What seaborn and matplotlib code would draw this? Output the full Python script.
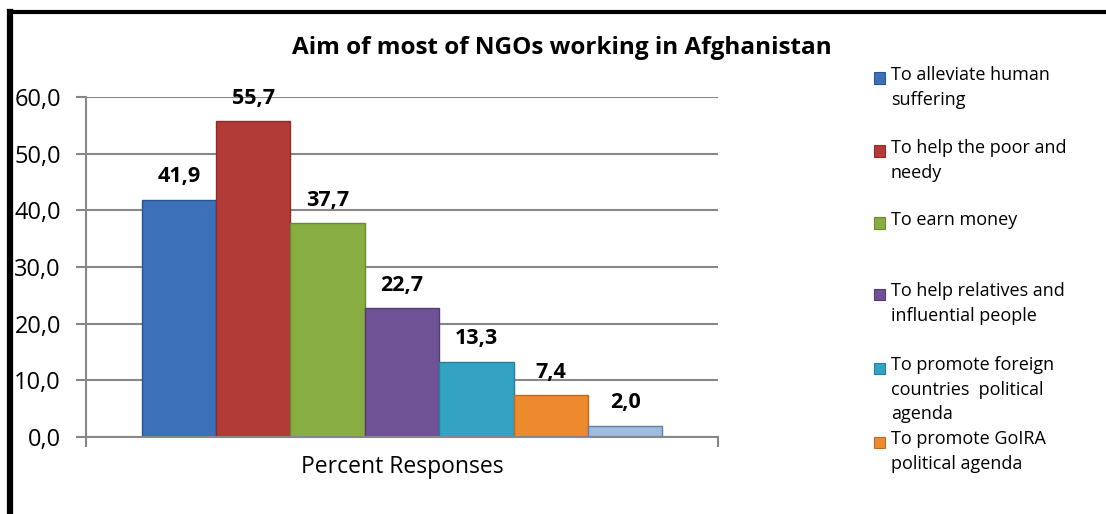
import matplotlib
matplotlib.use("Agg")
import matplotlib.pyplot as plt
from matplotlib.patches import Rectangle
from matplotlib.lines import Line2D
import seaborn as sns
import pandas as pd

# ---- data ----
categories = [
    "To alleviate human suffering",
    "To help the poor and needy",
    "To earn money",
    "To help relatives and influential people",
    "To promote foreign countries  political agenda",
    "To promote GoIRA political agenda",
    "Other",
]
legend_labels = [
    "To alleviate human\nsuffering",
    "To help the poor and\nneedy",
    "To earn money",
    "To help relatives and\ninfluential people",
    "To promote foreign\ncountries  political\nagenda",
    "To promote GoIRA\npolitical agenda",
]
values = [41.9, 55.7, 37.7, 22.7, 13.3, 7.4, 2.0]
group_label = "Percent Responses"
y_ticks = [0, 10, 20, 30, 40, 50, 60]
title = "Aim of most of NGOs working in Afghanistan"

colors = ["#3C70B8", "#B33B37", "#88AE42", "#6F5396", "#34A2C2", "#EC8A2D", "#9DBCE0"]
edges = ["#2A5590", "#8E2B28", "#6A8A30", "#543E75", "#237F9A", "#C06A1C", "#5F7FA8"]

df = pd.DataFrame({"group": [group_label] * len(values), "category": categories, "value": values})

W, H = 1106, 514
sns.set_theme(style="white")
plt.rcParams["font.family"] = ["Open Sans", "DejaVu Sans"]
plt.rcParams["text.color"] = "black"
plt.rcParams["xtick.labelcolor"] = "black"
plt.rcParams["ytick.labelcolor"] = "black"

fig = plt.figure(figsize=(W / 100, H / 100), dpi=100)
ax = fig.add_axes([86 / W, 1 - 437 / H, (718 - 86) / W, (437 - 97) / H])

sns.barplot(data=df, x="group", y="value", hue="category", hue_order=categories,
            palette=colors, width=0.824, dodge=True, ax=ax, legend=False,
            saturation=1, linewidth=0)

for cont, ec in zip(ax.containers, edges):
    for p in cont:
        p.set_edgecolor(ec)
        p.set_linewidth(1.0)
    ax.bar_label(cont, fmt=lambda v: f"{v:.1f}".replace(".", ","), padding=9,
                 fontsize=15.5, fontweight="bold", color="black")

grid_c = "#878787"
ax.set_xlim(-0.5, 0.5)
ax.set_ylim(0, 60)
ax.set_yticks(y_ticks, labels=[f"{v:.1f}".replace(".", ",") for v in y_ticks])
ax.set_xticks([-0.5, 0.5], labels=["", ""])
ax.set_xticks([0], labels=[group_label], minor=True)
ax.tick_params(axis="x", which="major", length=7, width=1.5, color=grid_c, direction="out", bottom=True)
ax.tick_params(axis="x", which="minor", length=0, labelsize=16.5, pad=13)
ax.tick_params(axis="y", length=7, width=1.5, color=grid_c, direction="out", left=True,
               labelsize=17, pad=11)
ax.set_xlabel("")
ax.set_ylabel("")
ax.yaxis.grid(True, color=grid_c, linewidth=1.5)
ax.set_axisbelow(True)
for s in ["top", "right"]:
    ax.spines[s].set_visible(False)
for s in ["left", "bottom"]:
    ax.spines[s].set_color(grid_c)
    ax.spines[s].set_linewidth(1.5)

fig.text(562 / W, 1 - 48 / H, title, ha="center", va="center", fontsize=17.5, fontweight="bold")

# legend (first six entries)
leg_y = [78, 151, 223, 294, 368, 442]
for lab, c, ec, y in zip(legend_labels, colors, edges, leg_y):
    fig.patches.append(Rectangle((874 / W, 1 - (y + 5.5) / H), 11 / W, 11 / H,
                                 transform=fig.transFigure, facecolor=c, edgecolor=ec, lw=0.8))
    fig.text(891 / W, 1 - (y - 12) / H, lab, ha="left", va="top", fontsize=13, linespacing=1.47)

# black frame (left and top)
fig.lines.append(Line2D([10 / W, 10 / W], [0, 1 - 11.5 / H], transform=fig.transFigure, color="black", lw=4.5, solid_capstyle="projecting"))
fig.lines.append(Line2D([10 / W, 1], [1 - 11.5 / H, 1 - 11.5 / H], transform=fig.transFigure, color="black", lw=3, solid_capstyle="projecting"))

fig.savefig("out.png", dpi=100, facecolor="white")
